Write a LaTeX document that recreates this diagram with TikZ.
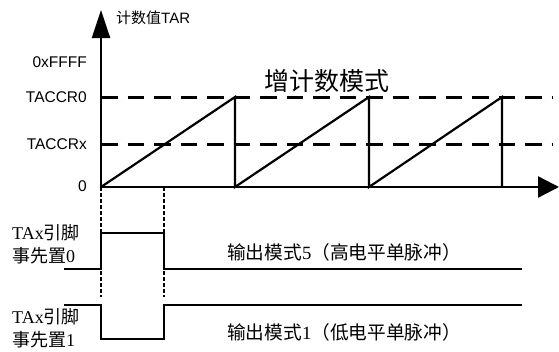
\documentclass[tikz,border=0pt]{standalone}
\usepackage{fontspec}
\setmainfont{Liberation Serif}
\setsansfont{Liberation Sans}
\newfontfamily\cjk{Noto Sans CJK SC}
\usetikzlibrary{arrows.meta}
\tikzset{
  axisline/.style={line width=2.4pt},
  ramp/.style={line width=2.2pt, line join=miter},
  refdash/.style={line width=3pt, dash pattern=on 16.5pt off 10pt},
  refdot/.style={line width=2.6pt, dash pattern=on 4pt off 2pt},
  wave/.style={line width=2.4pt, line join=miter},
  ylab/.style={anchor=east, inner sep=0pt, font=\sffamily\fontsize{15.5}{17}\selectfont},
  pinlab/.style={anchor=west, inner sep=0pt, align=left, font=\fontsize{18}{23.5}\selectfont},
  modelab/.style={anchor=west, inner sep=0pt, font=\fontsize{18.7}{20}\selectfont},
}
\begin{document}
\begin{tikzpicture}[x=1pt, y=-1pt]
\useasboundingbox (0,0) rectangle (559,351);
% coordinates
\coordinate (O) at (101,187);
\coordinate (ytop) at (101,10);
\coordinate (xend) at (559,187);
\coordinate (r0a) at (101,97);  \coordinate (r0b) at (553,97);
\coordinate (rxa) at (101,144); \coordinate (rxb) at (553,144);
\coordinate (p1) at (235,97);  \coordinate (b1) at (235,187);
\coordinate (p2) at (369,97);  \coordinate (b2) at (369,187);
\coordinate (p3) at (502,97);  \coordinate (b3) at (502,187);
\coordinate (cx) at (164,187);
\coordinate (d1) at (101,297); \coordinate (d2) at (164,297);
% reference dashed lines
\draw[refdash] (r0a) -- (r0b);
\draw[refdash] (rxa) -- (rxb);
% ramps
\draw[ramp] (O) -- (p1) -- (b1) -- (p2) -- (b2) -- (p3) -- (b3);
% axes
\draw[axisline, -{Triangle[length=28pt, width=18pt]}] (O) -- (ytop);
\draw[axisline, -{Triangle[length=21pt, width=21pt]}] (O) -- (xend);
% dotted guides
\draw[refdot] (O) -- (d1);
\draw[refdot] (cx) -- (d2);
% waveforms
\coordinate (u0) at (64,269); \coordinate (u1) at (101,269); \coordinate (u2) at (101,233);
\coordinate (u3) at (164,233); \coordinate (u4) at (164,269); \coordinate (u5) at (522,269);
\coordinate (l0) at (64,305); \coordinate (l1) at (101,305); \coordinate (l2) at (101,339);
\coordinate (l3) at (164,339); \coordinate (l4) at (164,305); \coordinate (l5) at (522,305);
\draw[wave] (u0) -- (u1) -- (u2) -- (u3) -- (u4) -- (u5);
\draw[wave] (l0) -- (l1) -- (l2) -- (l3) -- (l4) -- (l5);
% labels
\node[anchor=west, inner sep=0pt, font=\sffamily\fontsize{15}{16}\selectfont] (tar) at (116,18) {{\cjk 计数值}TAR};
\node[ylab] (lffff) at (87,62) {0xFFFF};
\node[ylab] (lr0) at (87,97) {TACCR0};
\node[ylab] (lrx) at (87,144) {TACCRx};
\node[ylab] (lz) at (87,186) {0};
\node[inner sep=0pt, font=\cjk\fontsize{25}{27}\selectfont] (mode) at (327,81) {增计数模式};
\node[pinlab] (pin0) at (12,244) {TAx{\cjk 引脚}\\{\cjk 事先置}0};
\node[pinlab] (pin1) at (12,328) {TAx{\cjk 引脚}\\{\cjk 事先置}1};
\node[modelab] (m5) at (227,252) {{\cjk 输出模式}5{\cjk （高电平单脉冲）}};
\node[modelab] (m1) at (227,332) {{\cjk 输出模式}1{\cjk （低电平单脉冲）}};
\end{tikzpicture}
\end{document}
